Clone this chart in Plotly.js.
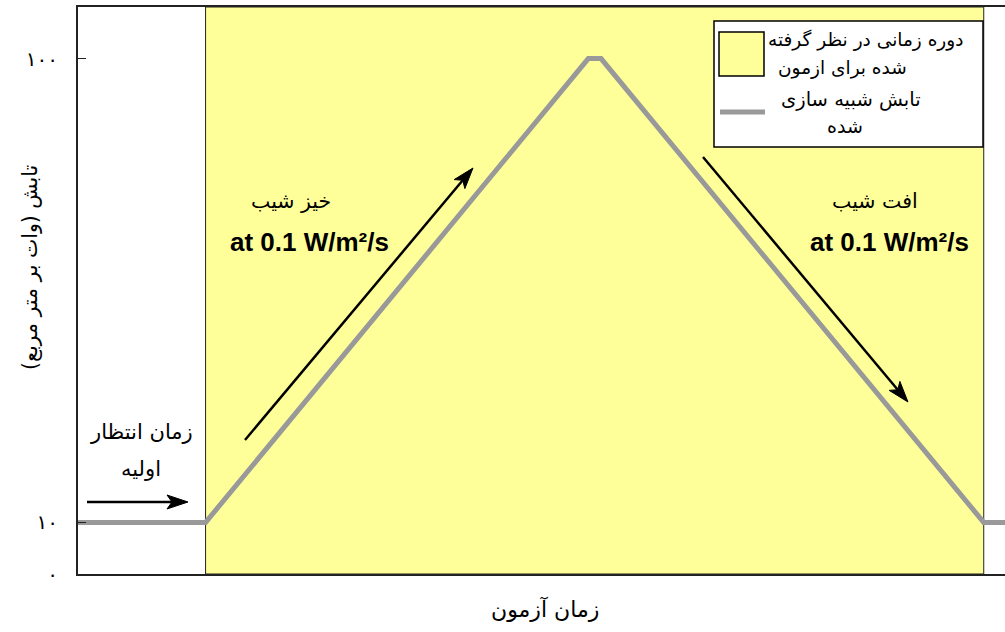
<!DOCTYPE html>
<html>
<head>
<meta charset="utf-8">
<script src="https://cdn.plot.ly/plotly-3.0.1.min.js"></script>
<style>
html,body{margin:0;padding:0;background:#fff;overflow:hidden;}
#chart{width:1005px;height:632px;}
</style>
</head>
<body>
<div id="chart"></div>
<script>
// ---- data ----
const timeSeconds = [0, 300, 1200, 1230, 2130, 2200];
const irradiance = [10, 10, 100, 100, 10, 10];
const testPeriod = [300, 2130];
const yTickVals = [0, 10, 100];
const yTickText = ['۰', '۱۰', '۱۰۰'];
const xTitle = 'زمان آزمون';
const yTitle = 'تابش (وات بر متر مربع)';
const legendPeriod = ['دوره زمانی در نظر گرفته', 'شده برای ازمون'];
const legendLine = ['تابش شبیه سازی', 'شده'];
const waitLabel = ['زمان انتظار', 'اولیه'];
const riseLabel = 'خیز شیب';
const fallLabel = 'افت شیب';
const rateLabel = 'at 0.1 W/m²/s';

// ---- geometry ----
const W = 1005, H = 632;
const M = {l: 78, r: 0, t: 7, b: 58};
const PW = W - M.l - M.r, PH = H - M.t - M.b;
const X_RANGE = [0, 2180], Y_RANGE = [0, 110];
const px = p => (p - M.l) / PW;          // pixel -> paper x
const py = p => (H - M.b - p) / PH;      // pixel -> paper y

const FA = 'DejaVu Sans, Noto Sans, sans-serif';
const shapes = [];
const annotations = [];

// test period band
shapes.push({type: 'rect', xref: 'x', yref: 'paper', x0: testPeriod[0], x1: testPeriod[1], y0: 0, y1: 1,
  fillcolor: '#FFFF99', line: {color: '#222', width: 1}, layer: 'below'});

// arrows (pixel-based)
function arrow(x0, y0, x1, y1) {
  const dx = x1 - x0, dy = y1 - y0, L = Math.hypot(dx, dy);
  const ux = dx / L, uy = dy / L, nx = -uy, ny = ux;
  const hl = 21, hw = 7, notch = 5;
  const bx = x1 - ux * hl, by = y1 - uy * hl;
  const nxp = x1 - ux * (hl - notch), nyp = y1 - uy * (hl - notch);
  shapes.push({type: 'line', xref: 'paper', yref: 'paper', x0: px(x0), y0: py(y0), x1: px(nxp), y1: py(nyp),
    line: {color: '#000', width: 2.5}});
  const pts = [[x1, y1], [bx + nx * hw, by + ny * hw], [nxp, nyp], [bx - nx * hw, by - ny * hw]];
  const path = 'M' + pts.map(p => px(p[0]).toFixed(5) + ',' + py(p[1]).toFixed(5)).join(' L') + ' Z';
  shapes.push({type: 'path', xref: 'paper', yref: 'paper', path: path, fillcolor: '#000', line: {color: '#000', width: 1}});
}
arrow(87, 502, 188, 502);
arrow(245, 440, 473, 168);
arrow(703, 157, 908, 402);

// legend box
shapes.push({type: 'rect', xref: 'paper', yref: 'paper', x0: px(714), x1: px(983), y0: py(147), y1: py(21),
  fillcolor: '#fff', line: {color: '#000', width: 1.5}});
shapes.push({type: 'rect', xref: 'paper', yref: 'paper', x0: px(719), x1: px(764), y0: py(76), y1: py(32),
  fillcolor: '#FFFF99', line: {color: '#000', width: 1.5}});
shapes.push({type: 'line', xref: 'paper', yref: 'paper', x0: px(720), x1: px(765), y0: py(112), y1: py(112),
  line: {color: '#999', width: 5}});

function txt(text, x, y, size, opts) {
  annotations.push(Object.assign({text: text, xref: 'paper', yref: 'paper', x: px(x), y: py(y),
    xanchor: 'center', yanchor: 'middle', showarrow: false,
    font: {family: FA, size: size, color: '#000'}}, opts || {}));
}
txt(legendPeriod[0], 865, 40, 18.5);
txt(legendPeriod[1], 842, 68, 18.5);
txt(legendLine[0], 851, 99, 19.5);
txt(legendLine[1], 845, 126, 19);

txt(waitLabel[0], 141, 432, 21);
txt(waitLabel[1], 141, 469, 21);
txt(riseLabel, 291, 201, 20.5);
txt(fallLabel, 875, 201, 20.5);
const BF = {family: 'Liberation Sans, Arial, sans-serif', size: 26, color: '#000'};
txt('<b>' + rateLabel + '</b>', 309, 242, 26, {font: BF});
txt('<b>' + rateLabel + '</b>', 889, 242, 26, {font: BF});

txt(yTitle, 30, 268, 20.5, {textangle: -90});
txt(xTitle, 545, 609, 22);

const data = [{
  x: timeSeconds, y: irradiance, type: 'scatter', mode: 'lines',
  line: {color: '#999999', width: 5}, showlegend: false, hoverinfo: 'skip'
}];

const layout = {
  width: W, height: H,
  margin: M,
  paper_bgcolor: '#fff', plot_bgcolor: '#fff',
  showlegend: false,
  xaxis: {range: X_RANGE, showgrid: false, zeroline: false, showticklabels: false, ticks: '',
    showline: true, mirror: true, linecolor: '#222', linewidth: 2},
  yaxis: {range: Y_RANGE, showgrid: false, zeroline: false, tickvals: yTickVals, ticktext: yTickText,
    ticks: 'inside', ticklen: 8, tickcolor: '#222', tickwidth: 1,
    ticklabelstandoff: 14,
    tickfont: {family: FA, size: 20, color: '#000'},
    showline: true, mirror: false, linecolor: '#222', linewidth: 2},
  shapes: shapes,
  annotations: annotations
};

Plotly.newPlot('chart', data, layout, {displayModeBar: false, staticPlot: true});
</script>
</body>
</html>
